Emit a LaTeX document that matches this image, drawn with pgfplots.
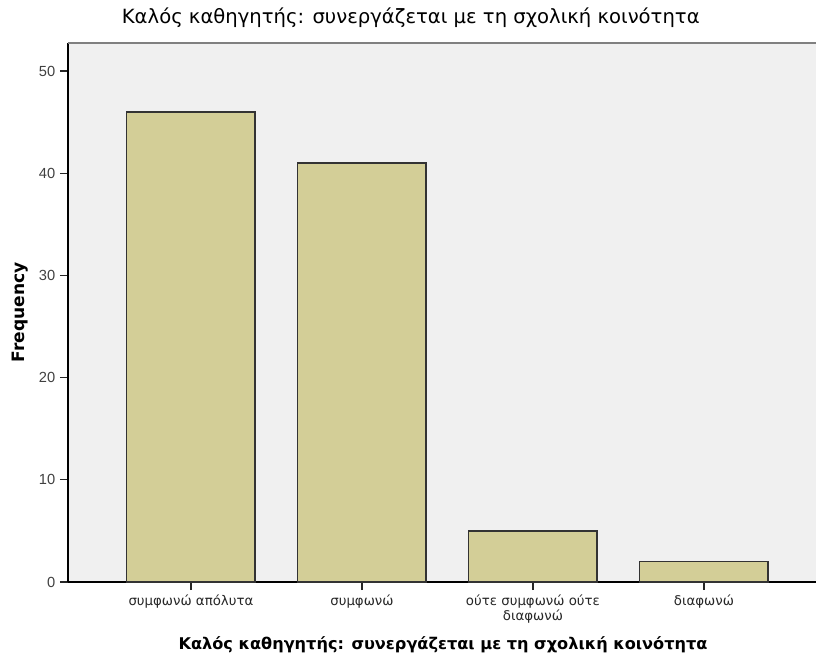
\documentclass[border=0pt]{standalone}
\usepackage{fontspec}
\setmainfont{DejaVu Sans}
\newfontfamily\arialfont{Liberation Sans}
\usepackage{pgfplots}
\pgfplotsset{compat=1.18}
\usetikzlibrary{calc}
\definecolor{barfill}{RGB}{211,206,151}
\definecolor{plotbg}{RGB}{240,240,240}
\begin{document}
\begin{tikzpicture}
\begin{axis}[
  name=ax,
  at={(0,0)}, anchor=south west,
  scale only axis,
  width=562.5pt, height=404.25pt,
  xmin=-0.719, xmax=3.667,
  ymin=0, ymax=52.74,
  axis background/.style={fill=plotbg},
  axis x line*=bottom, axis y line*=left,
  axis line style={line width=1pt, black, -},
  tick align=outside,
  major tick length=6pt,
  tick style={line width=1pt, black!85},
  xtick={0,1,2,3},
  xticklabels={συμφωνώ απόλυτα, συμφωνώ, {ούτε συμφωνώ ούτε\\διαφωνώ}, διαφωνώ},
  xticklabel style={align=center, font=\fontsize{10}{11}\selectfont, text=black!85},
  ytick={0,10,20,30,40,50},
  yticklabel style={font=\arialfont\fontsize{11}{12}\selectfont, text=black!75},
  /pgf/number format/assume math mode=true,
  title={Καλός καθηγητής: συνεργάζεται με τη σχολική κοινότητα},
  title style={at={(axis description cs:0.457,1.0315)}, anchor=center, font=\fontsize{14.7}{16}\selectfont},
  xlabel={Καλός καθηγητής: συνεργάζεται με τη σχολική κοινότητα},
  every axis x label/.style={at={(axis description cs:0.5,-0.1169)}, anchor=center, font=\bfseries\fontsize{12.1}{14}\selectfont},
  ylabel={Frequency},
  every axis y label/.style={at={(axis description cs:-0.064,0.5)}, rotate=90, anchor=center, font=\bfseries\fontsize{12.8}{14}\selectfont},
]
\draw[black!50, line width=1.5pt] (rel axis cs:0,1) -- (rel axis cs:1,1);
\addplot[ybar, bar width=0.751, fill=barfill, draw=black!80, line width=1pt]
  coordinates {(0,46) (1,41) (2,5) (3,2)};
\end{axis}
\pgfresetboundingbox
\path[use as bounding box] ($(ax.south west)+(-51pt,-55.5pt)$) rectangle ($(ax.south west)+(561pt,436.5pt)$);
\end{tikzpicture}
\end{document}
